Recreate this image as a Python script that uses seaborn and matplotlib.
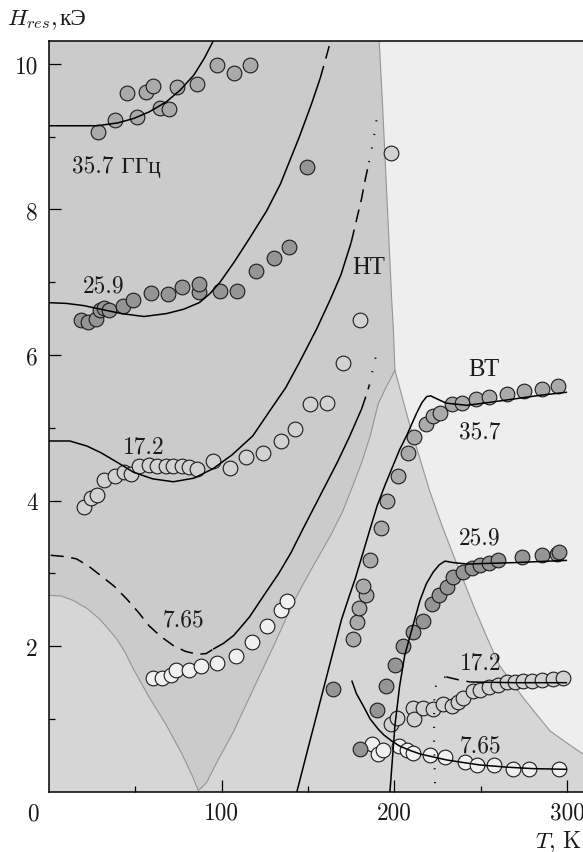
import numpy as np
import matplotlib
matplotlib.use("Agg")
import matplotlib.pyplot as plt
import seaborn as sns

# ---- phase boundaries (T, K ; H, kOe) ----
v_left_t = [0, 7, 14, 22, 29.5, 35, 39.2, 44, 48.8, 58, 68.1, 77, 83, 86.4]
v_left_h = [2.70, 2.69, 2.63, 2.52, 2.37, 2.22, 2.10, 1.92, 1.69, 1.30, 0.91, 0.52, 0.22, 0.02]
v_right_t = [86.4, 88, 91.3, 97, 106.7, 120, 130, 141.4, 151, 163, 170, 176, 181, 186, 190.6, 195, 200.3]
v_right_h = [0.02, 0.05, 0.13, 0.40, 0.82, 1.50, 2.00, 2.60, 3.02, 3.52, 3.85, 4.21, 4.52, 4.89, 5.33, 5.55, 5.79]
top_bnd_t = [191.2, 193, 195, 196.8, 198.4, 199.4, 200.3]
top_bnd_h = [10.31, 9.50, 8.50, 7.60, 6.77, 6.36, 5.79]
bt_bnd_t = [200.3, 209, 220.6, 228.3, 235, 240.9, 246.6, 254, 261, 275, 290, 300, 309.2]
bt_bnd_h = [5.79, 5.03, 4.12, 3.61, 3.20, 2.85, 2.51, 2.10, 1.73, 1.28, 0.84, 0.67, 0.52]

# ---- model curves ----
c357_nt_t = [0, 15, 28, 40, 49, 58, 68, 76, 84, 90, 95]
c357_nt_h = [9.15, 9.15, 9.15, 9.19, 9.25, 9.34, 9.48, 9.64, 9.85, 10.08, 10.31]

c259_nt_t = [0, 10, 20, 30, 42, 55, 68, 78, 87, 93, 99, 107, 116, 126, 134, 145, 152, 157]
c259_nt_h = [6.72, 6.71, 6.68, 6.63, 6.57, 6.53, 6.57, 6.63, 6.72, 6.84, 7.00, 7.27, 7.60, 7.98, 8.35, 9.00, 9.45, 9.80]
c259_nt_dash_t = [157, 160, 163]
c259_nt_dash_h = [9.80, 10.05, 10.31]

c172_nt_t = [0, 12, 22, 30, 40, 49, 60, 72, 84, 95, 106, 118, 128, 137, 145, 155, 163, 169, 175]
c172_nt_h = [4.82, 4.82, 4.75, 4.66, 4.52, 4.39, 4.30, 4.26, 4.31, 4.44, 4.63, 4.89, 5.24, 5.55, 5.90, 6.36, 6.77, 7.10, 7.55]
c172_nt_dash_t = [175, 178, 181, 183, 185.3]
c172_nt_dash_h = [7.55, 7.85, 8.15, 8.40, 8.65]
c172_nt_dot_t = [185.3, 187, 188.7, 190]
c172_nt_dot_h = [8.65, 8.85, 9.07, 9.29]

c765_nt_dash1_t = [1, 10, 16, 23, 30, 38, 45, 52, 58, 65, 72, 79, 86, 91, 95]
c765_nt_dash1_h = [3.25, 3.23, 3.20, 3.10, 2.97, 2.82, 2.65, 2.46, 2.28, 2.13, 2.01, 1.93, 1.89, 1.90, 1.96]
c765_nt_t = [95, 101, 107, 116, 125, 133, 140, 147, 157, 167, 174, 181]
c765_nt_h = [1.96, 2.04, 2.15, 2.40, 2.72, 3.00, 3.28, 3.61, 4.07, 4.53, 4.88, 5.26]
c765_nt_dash2_t = [181, 183, 185.4]
c765_nt_dash2_h = [5.26, 5.40, 5.58]
c765_nt_dot_t = [185.4, 186.8, 188.3, 190]
c765_nt_dot_h = [5.58, 5.73, 5.89, 6.05]

c357_bt_t = [143.5, 150, 157, 163, 169.4, 174, 177.2, 182, 185.9, 190, 194.5, 199, 203, 207,
             213, 216, 218.7, 221, 224.5, 230, 242, 255, 270, 285, 300]
c357_bt_h = [0.0, 0.60, 1.24, 1.79, 2.37, 2.70, 2.92, 3.30, 3.61, 3.93, 4.21, 4.47, 4.70, 4.89,
             5.21, 5.35, 5.43, 5.44, 5.40, 5.34, 5.31, 5.35, 5.40, 5.45, 5.49]

c259_bt_t = [197.4, 199, 200.3, 203, 206, 210.8, 214.8, 218.5, 222.5, 226, 229.3, 234, 242, 270, 300]
c259_bt_h = [0.0, 0.50, 0.91, 1.45, 1.88, 2.29, 2.63, 2.86, 3.02, 3.12, 3.17, 3.15, 3.13, 3.15, 3.18]

c172_bt_dot_t = [223.5, 223, 223, 223.5, 226.5, 230]
c172_bt_dot_h = [0.12, 0.60, 1.20, 1.43, 1.56, 1.58]
c172_bt_dash_t = [230, 237, 244]
c172_bt_dash_h = [1.58, 1.54, 1.51]
c172_bt_t = [244, 270, 300]
c172_bt_h = [1.51, 1.50, 1.50]

c765_bt_t = [175.3, 178, 182, 186, 190.7, 194, 198.4, 203, 209, 215, 220.6, 230, 238, 249.6, 265, 280, 300]
c765_bt_h = [1.53, 1.35, 1.18, 1.00, 0.86, 0.78, 0.70, 0.63, 0.57, 0.52, 0.49, 0.44, 0.41, 0.37, 0.34, 0.32, 0.31]

# ---- measured points ----
p357_t = [28.2, 38.2, 45.3, 50.8, 56, 60.4, 64.3, 69.5, 73.9, 85.9, 97.1, 107.1, 116.4,
          176.2, 178.5, 179.5, 183.5, 182, 186, 192, 195.9, 201.9, 208, 211.3, 218.1, 222.2,
          226.4, 233.2, 239, 247.3, 255, 265, 275, 285.3, 295]
p357_h = [9.07, 9.23, 9.60, 9.27, 9.62, 9.70, 9.39, 9.38, 9.68, 9.72, 9.99, 9.87, 9.98,
          2.10, 2.33, 2.52, 2.70, 2.83, 3.19, 3.62, 3.99, 4.34, 4.66, 4.87, 5.05, 5.16,
          5.21, 5.33, 5.34, 5.39, 5.43, 5.46, 5.50, 5.53, 5.57]

p259_t = [18.5, 22.8, 27.2, 29.5, 31.8, 34.9, 43, 48.8, 59, 69, 76.8, 87, 87, 99, 109, 119.9,
          130.3, 139.2, 149.2,
          164.7, 180, 190, 195.1, 200.3, 205.2, 211, 216.4, 221.6, 226, 230.3, 234, 239.5,
          244.7, 249.6, 255, 260.2, 274, 285.3, 294, 295.5]
p259_h = [6.48, 6.45, 6.50, 6.62, 6.64, 6.62, 6.68, 6.75, 6.85, 6.84, 6.93, 6.86, 6.98, 6.88, 6.88, 7.16,
          7.34, 7.48, 8.58,
          1.41, 0.59, 1.12, 1.46, 1.74, 2.00, 2.19, 2.35, 2.58, 2.70, 2.81, 2.95, 3.02,
          3.08, 3.12, 3.14, 3.18, 3.22, 3.26, 3.27, 3.30]

p172_t = [20.3, 24.1, 27.6, 32, 38.2, 43.4, 47.5, 52.3, 58.1, 62.4, 67.6, 72, 76.8, 81.1, 85.5,
          95.1, 104.8, 114.1, 124.1, 134.2, 142.4, 151.1, 160.8, 170, 180.1, 198,
          197.9, 201.3, 211, 211.6, 216.3, 222.4, 228.3, 233.2, 237, 239.9, 245.3, 249.6, 255,
          260.2, 265, 269.8, 274.7, 279.5, 285.3, 292, 297.8]
p172_h = [3.91, 4.04, 4.08, 4.29, 4.34, 4.40, 4.37, 4.48, 4.49, 4.47, 4.47, 4.47, 4.47, 4.46, 4.43,
          4.54, 4.45, 4.60, 4.66, 4.82, 4.98, 5.33, 5.34, 5.89, 6.48, 8.77,
          0.93, 1.01, 1.15, 1.00, 1.15, 1.14, 1.21, 1.18, 1.23, 1.29, 1.38, 1.40, 1.44,
          1.47, 1.51, 1.51, 1.52, 1.53, 1.54, 1.55, 1.56]

p765_t = [60.4, 65.3, 70.5, 73.4, 81.2, 88, 97.1, 108.3, 117.4, 126, 134.2, 138,
          186.9, 190.7, 193.6, 202.6, 207.1, 211, 220.6, 229.3, 241, 247.6, 257.9, 268.5, 278, 295.5]
p765_h = [1.57, 1.56, 1.61, 1.68, 1.68, 1.73, 1.77, 1.86, 2.06, 2.28, 2.50, 2.62,
          0.66, 0.52, 0.58, 0.63, 0.57, 0.54, 0.51, 0.48, 0.41, 0.37, 0.37, 0.32, 0.32, 0.32]

X_MAX, Y_MAX = 309.2, 10.31
FS = 16.8
FAMILY = ["cmr10", "Liberation Serif", "DejaVu Serif"]

sns.set_theme(style="ticks")
plt.rcParams["font.family"] = FAMILY
plt.rcParams["mathtext.fontset"] = "cm"
plt.rcParams["axes.formatter.use_mathtext"] = True

fig = plt.figure(figsize=(5.83, 8.53), dpi=100)
ax = fig.add_axes([49 / 583, 60.1 / 853, 1 - 49 / 583, 750.6 / 853])
ax.set_facecolor("#d6d6d6")

# NT (darker) and BT (light) phase areas
nt_x = np.concatenate([v_left_t, v_right_t, top_bnd_t[::-1], [0]])
nt_y = np.concatenate([v_left_h, v_right_h, top_bnd_h[::-1], [Y_MAX]])
ax.fill(nt_x, nt_y, color="#cbcbcb", lw=0, zorder=0.5)
bt_x = np.concatenate([top_bnd_t, bt_bnd_t, [X_MAX]])
bt_y = np.concatenate([top_bnd_h, bt_bnd_h, [Y_MAX]])
ax.fill(bt_x, bt_y, color="#eeeeee", lw=0, zorder=0.5)

bnd = dict(color="#959595", lw=0.8, zorder=1)
ax.plot(np.concatenate([v_left_t, v_right_t]), np.concatenate([v_left_h, v_right_h]), **bnd)
ax.plot(top_bnd_t, top_bnd_h, **bnd)
ax.plot(bt_bnd_t, bt_bnd_h, **bnd)

# measured points
mk = dict(s=112, edgecolor="#1a1a1a", linewidth=0.8, zorder=3, legend=False, ax=ax)
sns.scatterplot(x=p765_t, y=p765_h, color="#f0f0f0", **mk)
sns.scatterplot(x=p172_t, y=p172_h, color="#d2d2d2", **mk)
sns.scatterplot(x=p259_t, y=p259_h, color="#959595", **mk)
sns.scatterplot(x=p357_t, y=p357_h, color="#aaaaaa", **mk)

# model curves
solid = dict(color="black", lw=1.1, zorder=4, solid_capstyle="butt")
dash = dict(color="black", lw=1.1, zorder=4, dashes=(8.5, 5))
dot = dict(color="black", lw=1.4, zorder=4, dashes=(0.6, 6.5))
ax.plot(c357_nt_t, c357_nt_h, **solid)
ax.plot(c259_nt_t, c259_nt_h, **solid)
ax.plot(c259_nt_dash_t, c259_nt_dash_h, **dash)
ax.plot(c172_nt_t, c172_nt_h, **solid)
ax.plot(c172_nt_dash_t, c172_nt_dash_h, **dash)
ax.plot(c172_nt_dot_t, c172_nt_dot_h, **dot)
ax.plot(c765_nt_dash1_t, c765_nt_dash1_h, **dash)
ax.plot(c765_nt_t, c765_nt_h, **solid)
ax.plot(c765_nt_dash2_t, c765_nt_dash2_h, **dash)
ax.plot(c765_nt_dot_t, c765_nt_dot_h, **dot)
ax.plot(c357_bt_t, c357_bt_h, **solid)
ax.plot(c259_bt_t, c259_bt_h, **solid)
ax.plot(c172_bt_dot_t, c172_bt_dot_h, **dot)
ax.plot(c172_bt_dash_t, c172_bt_dash_h, **dash)
ax.plot(c172_bt_t, c172_bt_h, **solid)
ax.plot(c765_bt_t, c765_bt_h, **solid)

# labels
lab = dict(fontsize=FS, color="#1a1a1a", va="baseline", ha="left", zorder=5)
ax.text(13.3, 8.51, "35.7 ГГц", **lab)
ax.text(19.7, 6.88, "25.9", **lab)
ax.text(42.6, 4.66, "17.2", **lab)
ax.text(65.6, 2.28, "7.65", **lab)
ax.text(175.8, 7.13, "НТ", fontsize=FS + 1, color="#1a1a1a", va="baseline", ha="left", zorder=5)
ax.text(242.6, 5.72, "ВТ", fontsize=FS + 1, color="#1a1a1a", va="baseline", ha="left", zorder=5)
ax.text(237.4, 4.87, "35.7", **lab)
ax.text(237.4, 3.41, "25.9", **lab)
ax.text(238.0, 1.70, "17.2", **lab)
ax.text(238.0, 0.55, "7.65", **lab)

ax.set_xlim(0, X_MAX)
ax.set_ylim(0, Y_MAX)
ax.set_xticks([100, 200, 300], labels=["100", "200", "300"])
ax.set_xticks([50, 150, 250], minor=True)
ax.set_yticks([2, 4, 6, 8, 10], labels=["2", "4", "6", "8", "10"])
ax.set_yticks([1, 3, 5, 7, 9], minor=True)
ax.tick_params(which="both", direction="in", width=0.9, color="black",
               labelsize=FS, labelcolor="#1a1a1a")
ax.tick_params(axis="x", which="major", length=8.3, pad=7)
ax.tick_params(axis="y", which="major", length=8.3, pad=8)
ax.tick_params(which="minor", length=4.2)
ax.spines["right"].set_visible(False)
for side in ("left", "bottom", "top"):
    ax.spines[side].set_linewidth(1.1)
    ax.spines[side].set_color("black")
ax.grid(False)

ax.text(-9.5, -0.145, "0", fontsize=FS, color="#1a1a1a", ha="center", va="top",
        clip_on=False)

fig.text(7 / 583, 1 - 25 / 853, "$H_{res}$,", fontsize=FS, color="#1a1a1a",
         ha="left", va="baseline")
fig.text(60 / 583, 1 - 25 / 853, "кЭ", fontsize=FS, color="#1a1a1a",
         ha="left", va="baseline")
fig.text(535 / 583, 1 - 848 / 853, "$T$, K", fontsize=FS, color="#1a1a1a",
         ha="left", va="baseline")

fig.savefig("out.png", dpi=100)
